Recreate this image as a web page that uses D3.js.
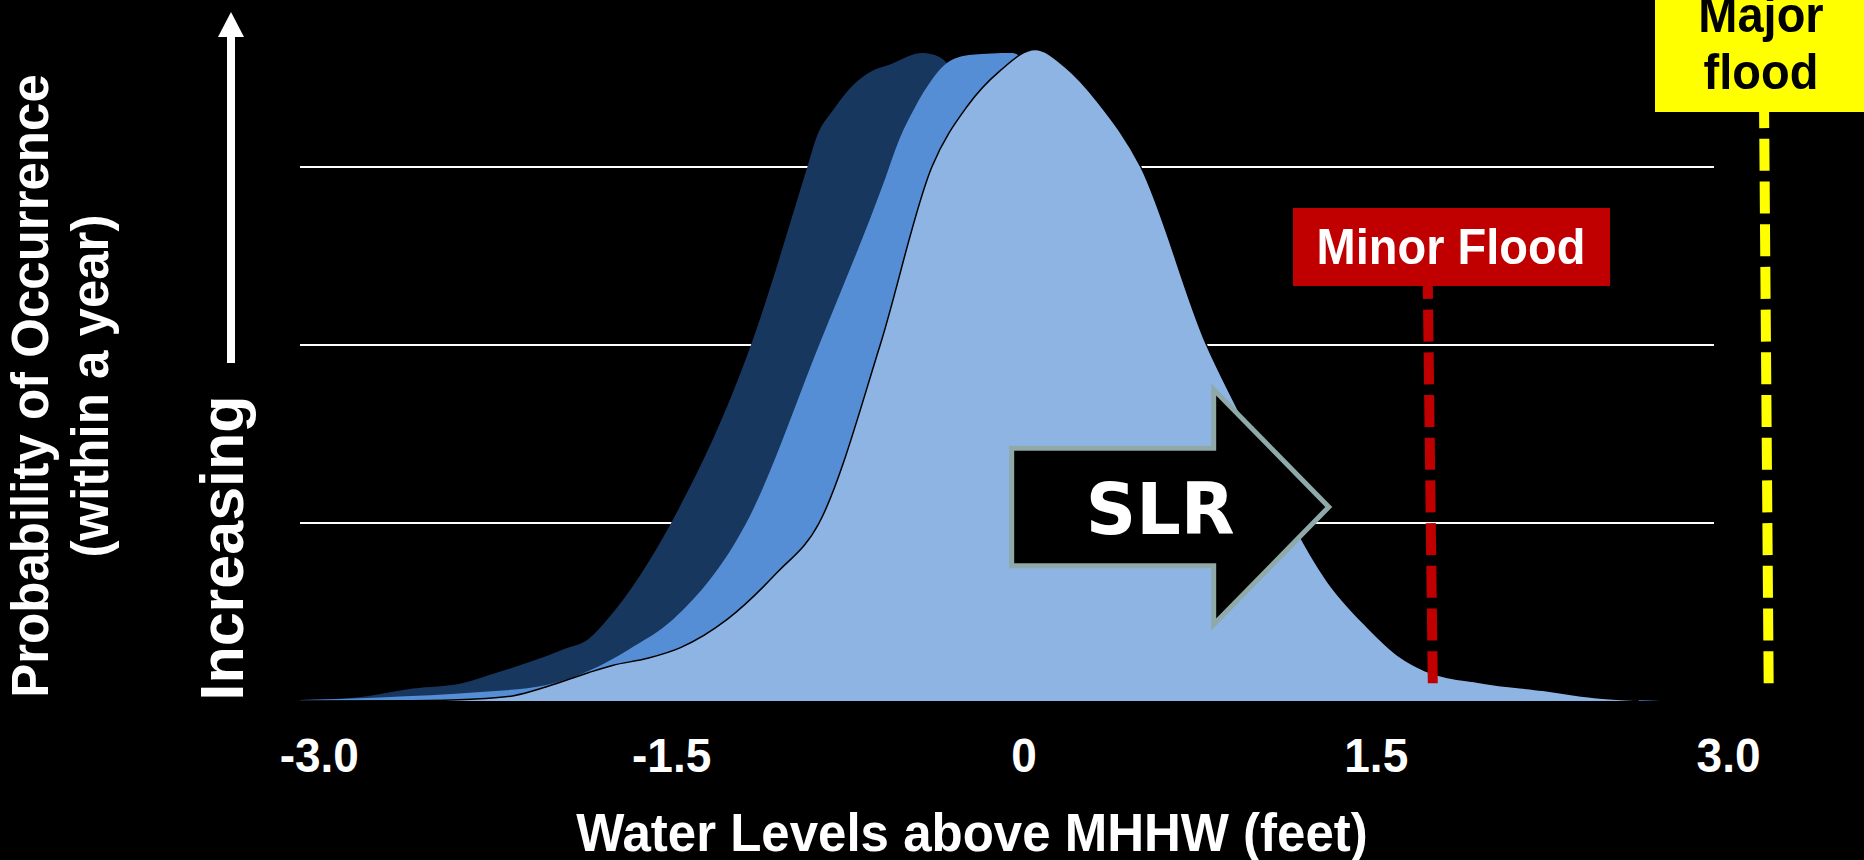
<!DOCTYPE html>
<html>
<head>
<meta charset="utf-8">
<script src="https://cdn.jsdelivr.net/npm/d3@7"></script>
<style>
  html, body { margin: 0; padding: 0; background: #000; }
  svg { display: block; }
</style>
</head>
<body>
<svg id="chart" width="1864" height="860"></svg>
<script>
// ---------- DATA ----------
const xTicks = [-3, -1.5, 0, 1.5, 3];
const xTickLabels = ["-3.0", "-1.5", "0", "1.5", "3.0"];
const gridValues = [1, 2, 3];

// Dark (back) distribution
const darkX = [-3.08, -2.84, -2.60, -2.39, -2.24, -2.10, -1.96, -1.85, -1.77, -1.50, -1.16, -0.92, -0.88, -0.81, -0.74, -0.67, -0.56, -0.43, -0.36, -0.30, -0.15, 0.00, 0.28, 0.66, 0.96, 1.21, 1.71, 2.20, 2.50, 2.71];
const darkY = [0.006, 0.02, 0.07, 0.10, 0.16, 0.22, 0.29, 0.35, 0.46, 1.00, 2.00, 3.00, 3.17, 3.32, 3.44, 3.52, 3.58, 3.64, 3.62, 3.55, 3.30, 3.00, 2.00, 1.00, 0.42, 0.17, 0.06, 0.02, 0.012, 0.0];

// Medium (middle) distribution
const medX = [-3.08, -2.74, -2.31, -2.03, -1.85, -1.68, -1.49, -1.18, -0.87, -0.59, -0.53, -0.46, -0.39, -0.32, -0.22, -0.05, 0.10, 0.30, 0.58, 0.96, 1.26, 1.51, 2.00, 2.50, 2.71];
const medY = [0.005, 0.02, 0.05, 0.09, 0.17, 0.29, 0.46, 1.00, 2.00, 2.93, 3.15, 3.34, 3.49, 3.59, 3.63, 3.64, 3.45, 3.00, 2.00, 1.00, 0.42, 0.17, 0.06, 0.01, 0.0];

// Light (front) distribution
const lightX = [-3.08, -2.60, -2.35, -2.17, -2.03, -1.85, -1.75, -1.60, -1.46, -1.26, -1.05, -0.87, -0.61, -0.39, -0.24, -0.10, 0.05, 0.18, 0.32, 0.50, 0.78, 0.92, 1.03, 1.16, 1.29, 1.46, 1.60, 1.71, 1.96, 2.21, 2.43, 2.62];
const lightY = [0.0, 0.002, 0.01, 0.03, 0.08, 0.16, 0.20, 0.24, 0.30, 0.46, 0.72, 1.00, 2.00, 3.00, 3.34, 3.54, 3.66, 3.56, 3.36, 3.00, 2.00, 1.62, 1.34, 0.97, 0.68, 0.42, 0.25, 0.17, 0.10, 0.06, 0.02, 0.003];

// Flood thresholds (feet)
const minorFlood = 1.73;
const majorFlood = 3.16;
const floodLineBottom = 0.1;

// SLR arrow geometry in data units
const slrBodyX = [-0.05, 0.81];
const slrTipX = 1.30;
const slrBodyY = [0.76, 1.42];
const slrHeadY = [0.43, 1.75];
const slrTipY = 1.09;

// ---------- CHART ----------
const svg = d3.select("#chart");
svg.append("rect").attr("width", 1864).attr("height", 860).attr("fill", "#000");

const x = d3.scaleLinear().domain([-3.08, 2.94]).range([300, 1714]);
const y = d3.scaleLinear().domain([0, 3]).range([701, 167]);

const FONT = "'Liberation Sans', Arial, Helvetica, sans-serif";
const STRETCH = "scale(1,1.05)";

// gridlines
svg.append("g").selectAll("line").data(gridValues).join("line")
  .attr("x1", x(-3.08)).attr("x2", x(2.94))
  .attr("y1", d => y(d)).attr("y2", d => y(d))
  .attr("stroke", "#ffffff").attr("stroke-width", 2);

function series(xs, ys) { return xs.map((v, i) => [v, ys[i]]); }

const area = d3.area().x(d => x(d[0])).y0(y(0)).y1(d => y(d[1])).curve(d3.curveMonotoneX);
const topLine = d3.line().x(d => x(d[0])).y(d => y(d[1])).curve(d3.curveMonotoneX);

svg.append("path").attr("d", area(series(darkX, darkY))).attr("fill", "#17375E");
svg.append("path").attr("d", area(series(medX, medY))).attr("fill", "#558ED5");
svg.append("path").attr("d", area(series(lightX, lightY))).attr("fill", "#8EB4E3");
svg.append("path").attr("d", topLine(series(lightX, lightY))).attr("fill", "none")
  .attr("stroke", "#000").attr("stroke-width", 1.5);

// SLR arrow
const arrowPts = [
  [slrBodyX[0], slrBodyY[1]], [slrBodyX[1], slrBodyY[1]], [slrBodyX[1], slrHeadY[1]],
  [slrTipX, slrTipY], [slrBodyX[1], slrHeadY[0]], [slrBodyX[1], slrBodyY[0]],
  [slrBodyX[0], slrBodyY[0]]
];
svg.append("polygon")
  .attr("points", arrowPts.map(p => [x(p[0]), y(p[1])].join(",")).join(" "))
  .attr("fill", "#000").attr("stroke", "#8FA8A8").attr("stroke-width", 5)
  .attr("stroke-linejoin", "miter");
svg.append("text")
  .attr("transform", `translate(${(x(slrBodyX[0]) + x(slrTipX)) / 2 - 10},${y(slrTipY) + 27}) scale(1,1.02)`)
  .attr("text-anchor", "middle")
  .attr("font-family", "'DejaVu Sans', Verdana, sans-serif").attr("font-weight", "bold")
  .attr("font-size", 70).attr("fill", "#fff").text("SLR");

// flood lines
function floodLine(v, top, color) {
  const yb = y(floodLineBottom);
  svg.append("line")
    .attr("x1", x(v) + 3).attr("y1", yb)
    .attr("x2", x(v) - 2).attr("y2", top)
    .attr("stroke", color).attr("stroke-width", 10)
    .attr("stroke-dasharray", "32 10.7");
}
floodLine(minorFlood, 286, "#C00000");
floodLine(majorFlood, 60, "#FFFF00");

// Minor flood label
svg.append("rect").attr("x", 1293).attr("y", 208).attr("width", 317).attr("height", 78).attr("fill", "#C00000");
svg.append("text").attr("transform", `translate(1451,264) ${STRETCH}`).attr("text-anchor", "middle")
  .attr("font-family", FONT).attr("font-weight", "bold").attr("font-size", 47)
  .attr("fill", "#fff").text("Minor Flood");

// Major flood label
svg.append("rect").attr("x", 1655).attr("y", -10).attr("width", 215).attr("height", 122).attr("fill", "#FFFF00");
svg.append("text").attr("transform", `translate(1761,32) ${STRETCH}`).attr("text-anchor", "middle")
  .attr("font-family", FONT).attr("font-weight", "bold").attr("font-size", 47)
  .attr("fill", "#000").text("Major");
svg.append("text").attr("transform", `translate(1761,89) ${STRETCH}`).attr("text-anchor", "middle")
  .attr("font-family", FONT).attr("font-weight", "bold").attr("font-size", 47)
  .attr("fill", "#000").text("flood");

// x axis
const xAxis = d3.axisBottom(x).tickValues(xTicks).tickFormat((d, i) => xTickLabels[i]).tickSize(0);
const gx = svg.append("g").call(xAxis);
gx.select(".domain").remove();
gx.selectAll("text")
  .attr("y", 0).attr("dy", null)
  .attr("transform", `translate(0,772) ${STRETCH}`)
  .attr("font-family", FONT).attr("font-weight", "bold").attr("font-size", 46)
  .attr("fill", "#fff");

// x axis title
svg.append("text").attr("transform", `translate(972,851) ${STRETCH}`).attr("text-anchor", "middle")
  .attr("font-family", FONT).attr("font-weight", "bold").attr("font-size", 51)
  .attr("fill", "#fff").text("Water Levels above MHHW (feet)");

// y axis titles
svg.append("text").attr("transform", "translate(48,386) rotate(-90)")
  .attr("text-anchor", "middle").attr("font-family", FONT).attr("font-weight", "bold")
  .attr("font-size", 51).attr("fill", "#fff").text("Probability of Occurrence");
svg.append("text").attr("transform", "translate(108,386) rotate(-90)")
  .attr("text-anchor", "middle").attr("font-family", FONT).attr("font-weight", "bold")
  .attr("font-size", 51).attr("fill", "#fff").text("(within a year)");

svg.append("text").attr("transform", "translate(243,548) rotate(-90)")
  .attr("text-anchor", "middle").attr("font-family", FONT).attr("font-weight", "bold")
  .attr("font-size", 61).attr("fill", "#fff").text("Increasing");

// Increasing arrow
svg.append("rect").attr("x", 227).attr("y", 34).attr("width", 8).attr("height", 329).attr("fill", "#fff");
svg.append("polygon").attr("points", "218,37 244,37 231,12").attr("fill", "#fff");
</script>
</body>
</html>
